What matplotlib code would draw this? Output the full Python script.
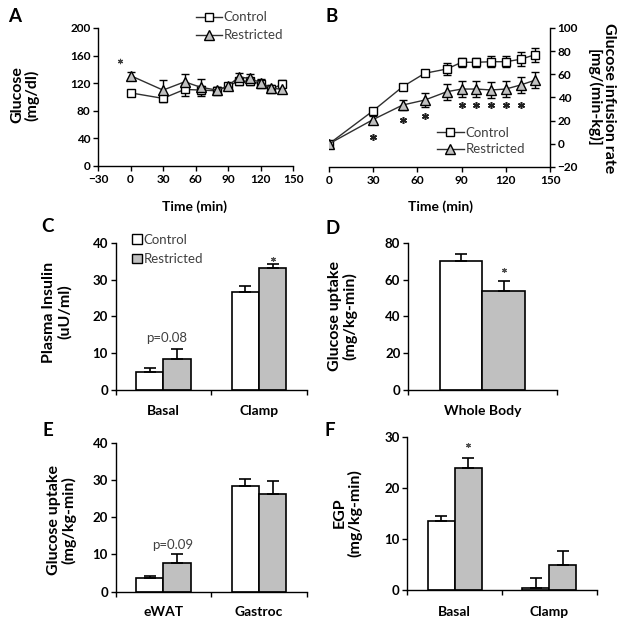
import matplotlib
matplotlib.use("Agg")
import matplotlib.pyplot as plt
from matplotlib.lines import Line2D
from matplotlib.patches import Patch
import numpy as np

plt.rcParams['font.family'] = ['Lato', 'DejaVu Sans']

# ---------------- data ----------------
time_A = [0, 30, 50, 65, 80, 90, 100, 110, 120, 130, 140]
glu_ctrl = [106, 98, 111, 110, 109, 116, 123, 123, 119, 111, 119]
glu_ctrl_err = [4, 5, 9, 6, 5, 4, 5, 5, 5, 4, 5]
glu_restr = [131, 110, 122, 114, 110, 116, 129, 127, 121, 113, 111]
glu_restr_err = [5, 14, 12, 12, 5, 4, 6, 6, 5, 4, 4]
glu_star_t = [-10]
glu_star_y = [152]

time_B = [0, 30, 50, 65, 80, 90, 100, 110, 120, 130, 140]
gir_ctrl = [0, 28.6, 49.3, 60.9, 64.6, 70.4, 70.4, 70.9, 70.9, 73, 77]
gir_ctrl_err = [1, 2, 2, 2, 5, 4, 4, 5, 5, 6, 6]
gir_restr = [0, 21, 33.5, 37.8, 45, 47.3, 47.3, 46.5, 47.3, 50.8, 55]
gir_restr_err = [1, 3, 4, 6, 7, 7, 7, 7, 7, 7, 7]
gir_star_t = [30, 50, 65, 90, 100, 110, 120, 130]
gir_star_y = [5.6, 20.5, 24, 33.5, 33.5, 33.5, 33.5, 33.5]

ins_groups = ['Basal', 'Clamp']
ins_ctrl = [5.0, 26.6]
ins_ctrl_err = [0.9, 1.7]
ins_restr = [8.5, 33.0]
ins_restr_err = [2.5, 1.3]

wb_groups = ['Whole Body']
wb_ctrl = [70.0]
wb_ctrl_err = [4.0]
wb_restr = [53.5]
wb_restr_err = [5.5]

tis_groups = ['eWAT', 'Gastroc']
tis_ctrl = [3.7, 28.5]
tis_ctrl_err = [0.6, 1.7]
tis_restr = [7.8, 26.3]
tis_restr_err = [2.2, 3.4]

egp_groups = ['Basal', 'Clamp']
egp_ctrl = [13.5, 0.3]
egp_ctrl_err = [0.9, 2.0]
egp_restr = [23.8, 4.8]
egp_restr_err = [2.0, 2.9]

# ---------------- figure ----------------
W, H = 621, 624
fig = plt.figure(figsize=(W / 100, H / 100), dpi=100)

def ax_px(l, r, t, b):
    return fig.add_axes([l / W, 1 - b / H, (r - l) / W, (b - t) / H])

def ftext(x, y, s, **kw):
    fig.text(x / W, 1 - y / H, s, **kw)

LINE = '#303030'
GRAY = '#c0c0c0'
TXT = '#404040'
YLAB_FS = 11.5
CAT_FS = 10
LEG_FS = 9.5
LET_FS = 13.5

def style(ax, tick_fs):
    for s in ['top', 'right']:
        ax.spines[s].set_visible(False)
    for s in ax.spines.values():
        s.set_linewidth(1.0)
    ax.tick_params(direction='out', length=3.5, width=1.0, labelsize=tick_fs, pad=2)
    for lab in ax.get_xticklabels() + ax.get_yticklabels():
        lab.set_fontweight('bold')

def stars(ax, xs, ys, ms=5.5, mew=1.1, color='#202020'):
    ax.plot(xs, ys, ls='none', marker=(6, 2, 0), ms=ms, mew=mew, color=color, zorder=4)

# ---------------- A ----------------
axA = ax_px(98, 293, 28, 166)
axA.errorbar(time_A, glu_ctrl, yerr=glu_ctrl_err, color=LINE, lw=1.0, marker='s', ms=6,
             mfc='white', mec='black', mew=1.0, ecolor='black', elinewidth=1.0, capsize=3, capthick=1.0,
             zorder=3)
axA.errorbar(time_A, glu_restr, yerr=glu_restr_err, color=LINE, lw=1.0, marker='^', ms=7,
             mfc=GRAY, mec='black', mew=1.0, ecolor='black', elinewidth=1.0, capsize=3, capthick=1.0,
             zorder=3)
axA.set_xlim(-30, 150)
axA.set_ylim(0, 200)
axA.set_xticks(range(-30, 151, 30))
axA.set_yticks(range(0, 201, 40))
style(axA, 8.5)
stars(axA, glu_star_t, glu_star_y, ms=3.8, mew=0.8, color='#404040')
hA = [Line2D([], [], color=LINE, lw=1.0, marker='s', ms=6, mfc='white', mec='black'),
      Line2D([], [], color=LINE, lw=1.0, marker='^', ms=7, mfc=GRAY, mec='black')]
legA = axA.legend(hA, ['Control', 'Restricted'], loc='upper left', bbox_to_anchor=(0.5, 1.12),
                  frameon=False, fontsize=LEG_FS, handlelength=2.0, handletextpad=0.15,
                  labelspacing=0.45, borderpad=0, borderaxespad=0)
for t in legA.get_texts():
    t.set_color(TXT)
ftext(25, 95, 'Glucose\n(mg/dl)', rotation=90, ha='center', va='center', fontsize=YLAB_FS,
      fontweight='bold', linespacing=1.05)
ftext(195, 207, 'Time (min)', ha='center', va='center', fontsize=CAT_FS, fontweight='bold')
ftext(15, 16, 'A', ha='center', va='center', fontsize=LET_FS, fontweight='bold')

# ---------------- B ----------------
axB = ax_px(329, 550, 28, 167)
axB.errorbar(time_B, gir_ctrl, yerr=gir_ctrl_err, color=LINE, lw=1.0, marker='s', ms=6,
             mfc='white', mec='black', mew=1.0, ecolor='black', elinewidth=1.0, capsize=3, capthick=1.0,
             zorder=3)
axB.errorbar(time_B, gir_restr, yerr=gir_restr_err, color=LINE, lw=1.0, marker='^', ms=7,
             mfc=GRAY, mec='black', mew=1.0, ecolor='black', elinewidth=1.0, capsize=3, capthick=1.0,
             zorder=3)
axB.set_xlim(0, 150)
axB.set_ylim(-20, 100)
axB.set_xticks(range(0, 151, 30))
axB.set_yticks(range(-20, 101, 20))
for s in ['top', 'left']:
    axB.spines[s].set_visible(False)
axB.spines['right'].set_visible(True)
axB.yaxis.tick_right()
axB.tick_params(direction='out', length=3.5, width=1.0, labelsize=8.5, pad=2)
for s in axB.spines.values():
    s.set_linewidth(1.0)
for lab in axB.get_xticklabels() + axB.get_yticklabels():
    lab.set_fontweight('bold')
stars(axB, gir_star_t, gir_star_y, ms=5.0, mew=1.1)
legB = axB.legend(hA, ['Control', 'Restricted'], loc='upper left', bbox_to_anchor=(0.49, 0.29),
                  frameon=False, fontsize=LEG_FS, handlelength=2.0, handletextpad=0.15,
                  labelspacing=0.35, borderpad=0, borderaxespad=0)
for t in legB.get_texts():
    t.set_color(TXT)
ftext(601, 98, 'Glucose infusion rate\n[mg/(min-kg)]', rotation=270, ha='center', va='center',
      fontsize=YLAB_FS, fontweight='bold', linespacing=1.05)
ftext(440, 207, 'Time (min)', ha='center', va='center', fontsize=CAT_FS, fontweight='bold')
ftext(332, 16, 'B', ha='center', va='center', fontsize=LET_FS, fontweight='bold')

# ---------------- bar helper ----------------
BW = 0.286

def bars(ax, groups, ctrl, cerr, restr, rerr, ymax, ystep, label_y):
    n = len(groups)
    x = np.arange(n) + 0.5
    ax.bar(x - BW / 2, ctrl, BW, color='white', edgecolor='black', lw=1.2, zorder=2)
    ax.bar(x + BW / 2, restr, BW, color=GRAY, edgecolor='black', lw=1.2, zorder=2)
    ax.errorbar(x - BW / 2, ctrl, yerr=[np.zeros(n), cerr], fmt='none', ecolor='black',
                elinewidth=1.2, capsize=4.5, capthick=1.2, zorder=3)
    ax.errorbar(x + BW / 2, restr, yerr=[np.zeros(n), rerr], fmt='none', ecolor='black',
                elinewidth=1.2, capsize=4.5, capthick=1.2, zorder=3)
    ax.set_xlim(0, n)
    ax.set_ylim(0, ymax)
    ax.set_yticks(np.arange(0, ymax + 0.1, ystep))
    ax.set_xticks(np.arange(0, n + 1))
    ax.set_xticklabels([])
    style(ax, 9.5)
    for xi, g in zip(x, groups):
        ax.text(xi, label_y, g, transform=ax.get_xaxis_transform(), ha='center', va='center',
                fontsize=CAT_FS, fontweight='bold')
    return x

# ---------------- C ----------------
axC = ax_px(115.7, 306.7, 242.7, 390)
xC = bars(axC, ins_groups, ins_ctrl, ins_ctrl_err, ins_restr, ins_restr_err, 40, 10, -0.143)
axC.text(xC[0] + 0.03, 14.0, 'p=0.08', ha='center', va='center', fontsize=LEG_FS, color=TXT)
stars(axC, [xC[1] + BW / 2], [35.6], ms=3.5, mew=0.8, color='#505050')
hC = [Patch(facecolor='white', edgecolor='black', lw=1.0),
      Patch(facecolor=GRAY, edgecolor='black', lw=1.0)]
legC = axC.legend(hC, ['Control', 'Restricted'], loc='upper left', bbox_to_anchor=(0.085, 1.06),
                  frameon=False, fontsize=LEG_FS, handlelength=0.75, handleheight=0.75,
                  handletextpad=0.15, labelspacing=0.55, borderpad=0, borderaxespad=0)
for t in legC.get_texts():
    t.set_color(TXT)
ftext(57, 312, 'Plasma Insulin\n(uU/ml)', rotation=90, ha='center', va='center', fontsize=YLAB_FS,
      fontweight='bold', linespacing=1.05)
ftext(48, 226, 'C', ha='center', va='center', fontsize=LET_FS, fontweight='bold')

# ---------------- D ----------------
axD = ax_px(408, 556.7, 242.7, 390)
xD = bars(axD, wb_groups, wb_ctrl, wb_ctrl_err, wb_restr, wb_restr_err, 80, 20, -0.143)
stars(axD, [xD[0] + BW / 2], [65], ms=3.5, mew=0.8, color='#505050')
ftext(343, 316, 'Glucose uptake\n(mg/kg-min)', rotation=90, ha='center', va='center', fontsize=YLAB_FS,
      fontweight='bold', linespacing=1.05)
ftext(333, 229, 'D', ha='center', va='center', fontsize=LET_FS, fontweight='bold')

# ---------------- E ----------------
axE = ax_px(115.7, 306.7, 442.7, 591.7)
xE = bars(axE, tis_groups, tis_ctrl, tis_ctrl_err, tis_restr, tis_restr_err, 40, 10, -0.137)
axE.text(xE[0] + 0.1, 12.6, 'p=0.09', ha='center', va='center', fontsize=LEG_FS, color=TXT)
ftext(62, 520, 'Glucose uptake\n(mg/kg-min)', rotation=90, ha='center', va='center', fontsize=YLAB_FS,
      fontweight='bold', linespacing=1.05)
ftext(48, 431, 'E', ha='center', va='center', fontsize=LET_FS, fontweight='bold')

# ---------------- F ----------------
axF = ax_px(407.3, 596.7, 436.7, 590)
xF = bars(axF, egp_groups, egp_ctrl, egp_ctrl_err, egp_restr, egp_restr_err, 30, 10, -0.143)
stars(axF, [xF[0] + BW / 2], [28.3], ms=3.5, mew=0.8, color='#505050')
ftext(348, 513, 'EGP\n(mg/kg-min)', rotation=90, ha='center', va='center', fontsize=YLAB_FS,
      fontweight='bold', linespacing=1.05)
ftext(330, 431, 'F', ha='center', va='center', fontsize=LET_FS, fontweight='bold')

fig.savefig('out.png', dpi=100)
